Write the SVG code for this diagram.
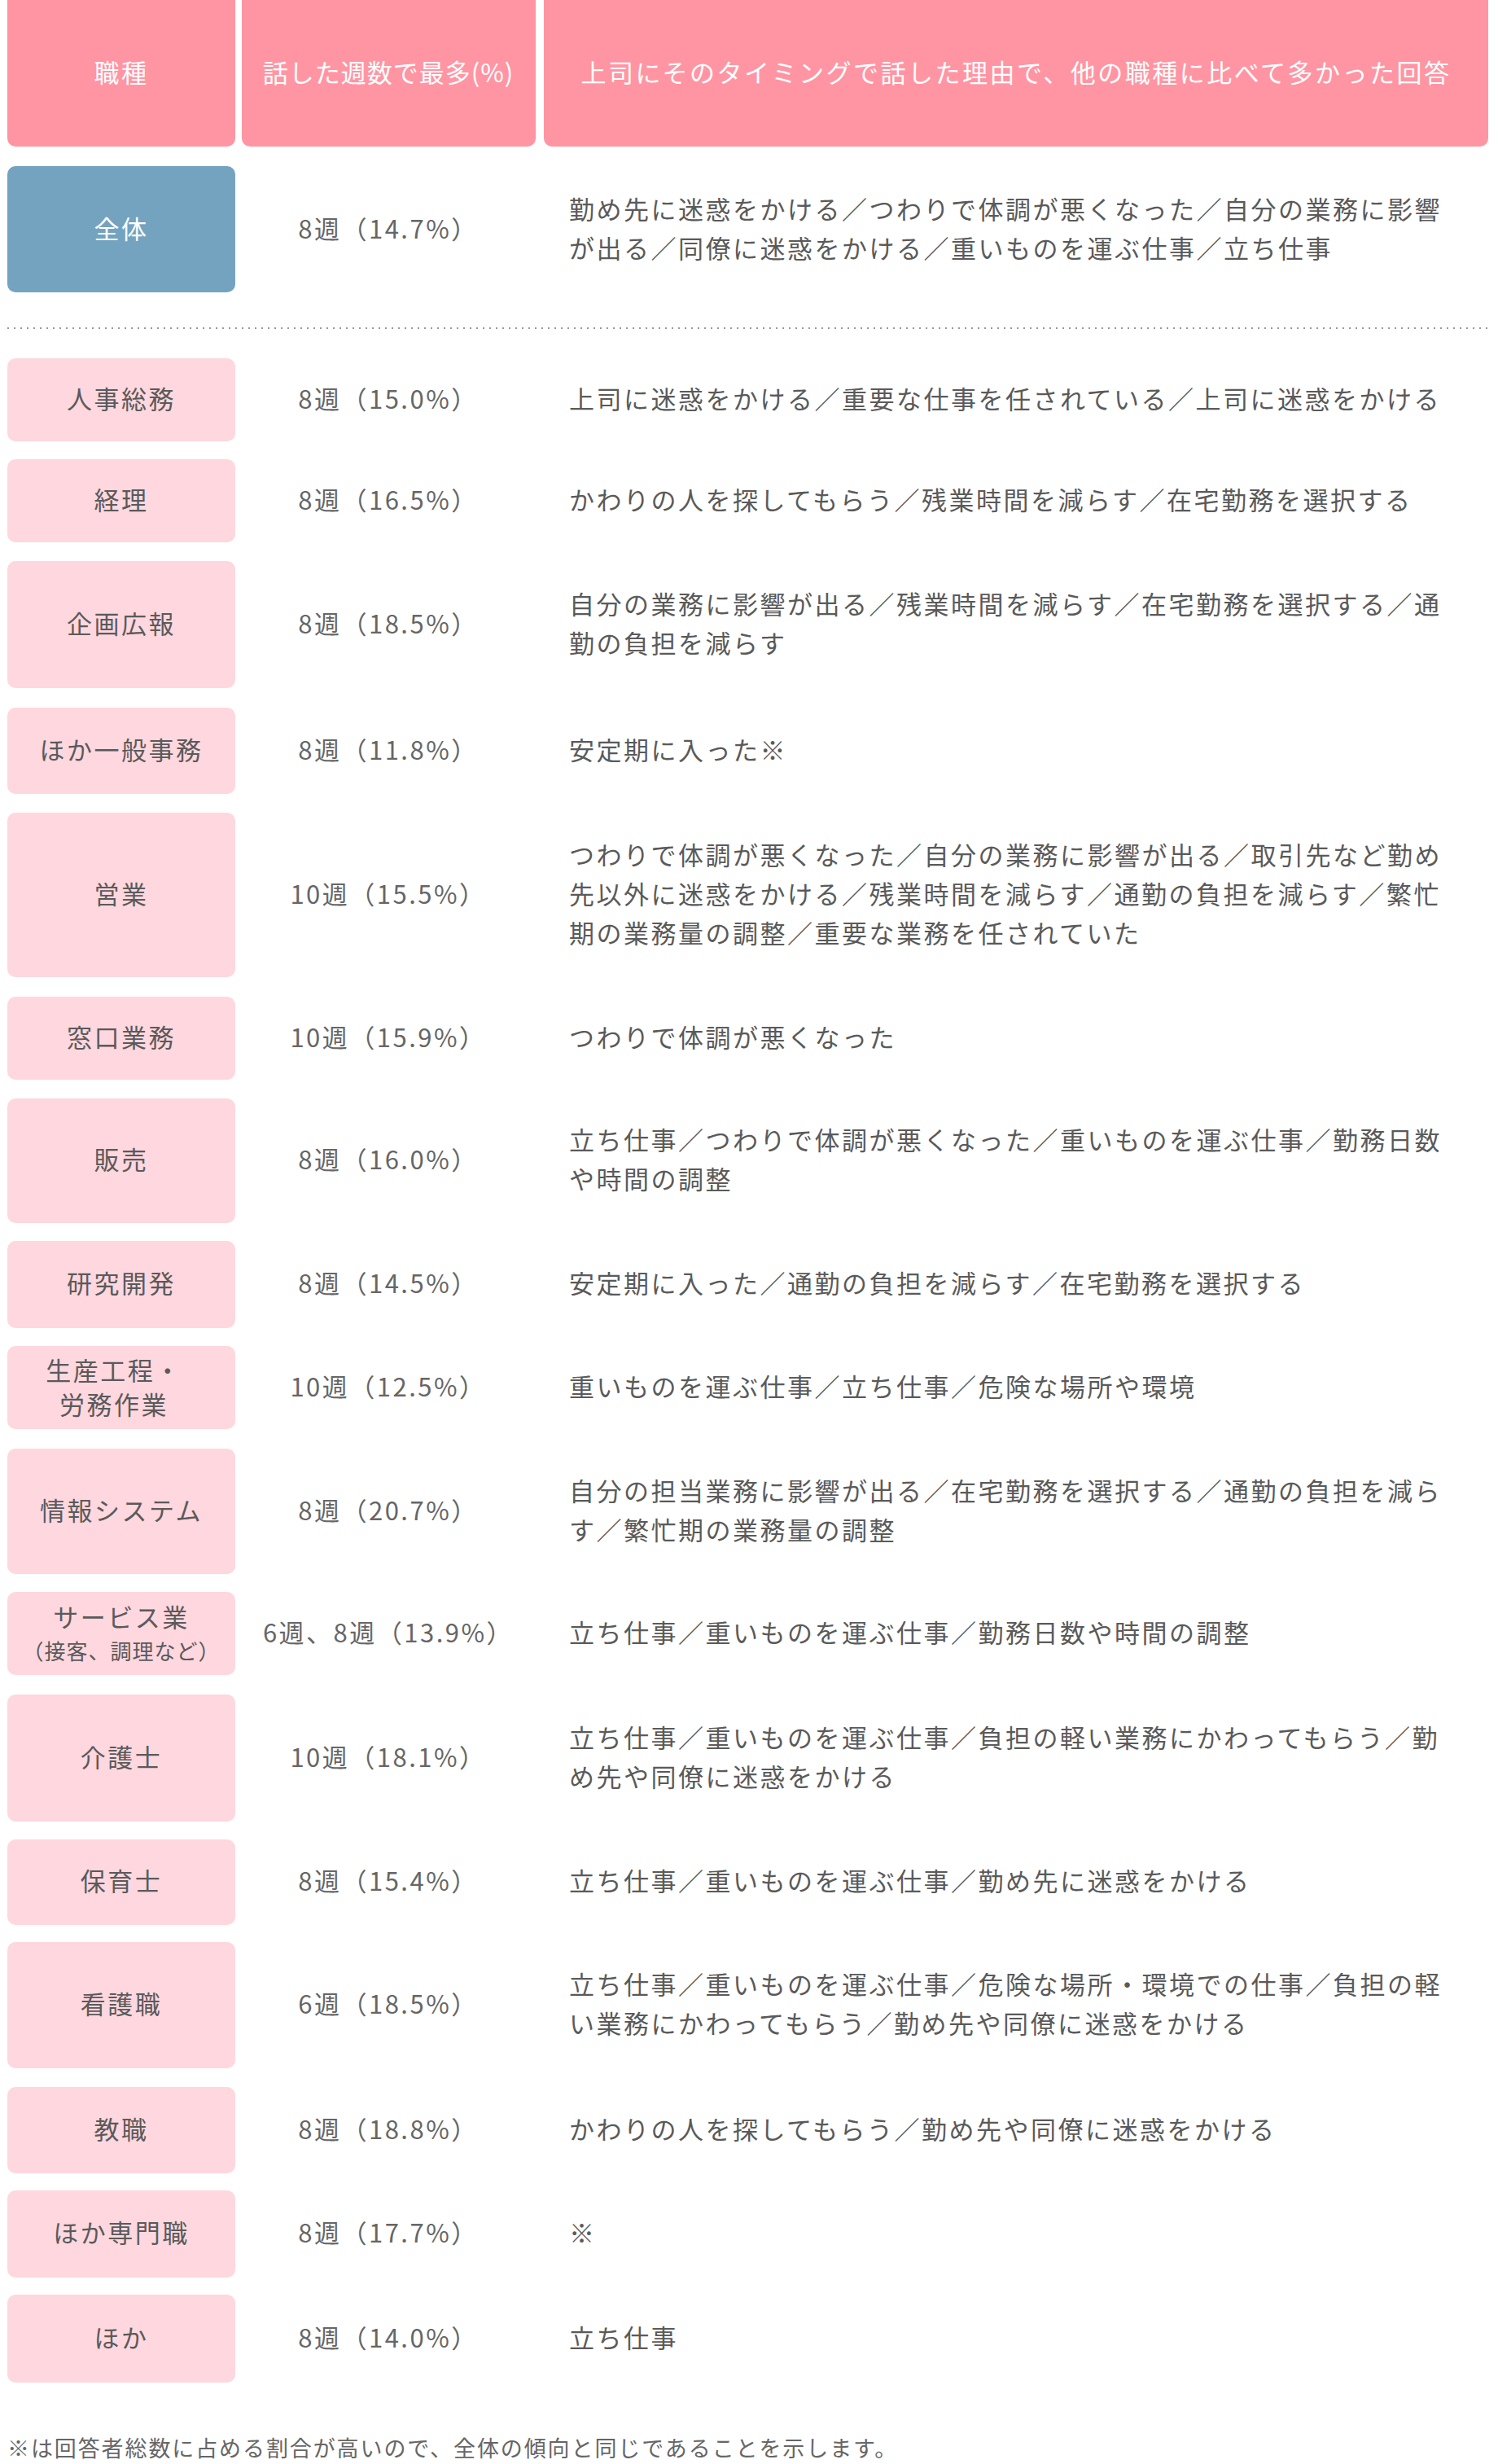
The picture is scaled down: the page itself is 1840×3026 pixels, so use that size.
<svg xmlns="http://www.w3.org/2000/svg" width="1840" height="3026" viewBox="0 0 1840 3026">
<style>
text{font-family:"Noto Sans CJK JP","Noto Sans",sans-serif;font-size:31px;letter-spacing:2.5px;fill:#5a5a5a}
.h{fill:#FF95A3}.b{fill:#74A3C0}.p{fill:#FFD7DF}
.w{fill:#fff}
.m{text-anchor:middle}
.c2{fill:#666}
.s{font-size:26px;letter-spacing:1px}
.f{font-size:27px;letter-spacing:1.9px;fill:#666}
</style>
<rect width="1840" height="3026" fill="#fff"/>
<g id="header">
<rect class="h" x="9" y="-10" width="280" height="190" rx="10"/>
<rect class="h" x="297" y="-10" width="361" height="190" rx="10"/>
<rect class="h" x="668" y="-10" width="1160" height="190" rx="10"/>
<text class="w m" x="149" y="101">職種</text>
<text class="w m" x="477" y="101" style="letter-spacing:1px">話した週数で最多(%)</text>
<text class="w m" x="1248" y="101">上司にそのタイミングで話した理由で、他の職種に比べて多かった回答</text>
</g>
<g id="row-all">
<rect class="b" x="9" y="204" width="280" height="155" rx="10"/>
<text class="w m" x="149" y="293">全体</text>
<text class="c2 m" x="477" y="293">8週（14.7%）</text>
<text x="699" y="269">勤め先に迷惑をかける／つわりで体調が悪くなった／自分の業務に影響</text>
<text x="699" y="317">が出る／同僚に迷惑をかける／重いものを運ぶ仕事／立ち仕事</text>
</g>
<g id="connectors">
<line x1="9" y1="403" x2="1828" y2="403" stroke="#999" stroke-width="2" stroke-dasharray="2,6"/>
</g>
<g id="r1"><rect class="p" x="9" y="440" width="280" height="102" rx="10"/><text class="m" x="149" y="502">人事総務</text><text class="c2 m" x="477" y="502">8週（15.0%）</text><text x="699" y="502">上司に迷惑をかける／重要な仕事を任されている／上司に迷惑をかける</text></g>
<g id="r2"><rect class="p" x="9" y="564" width="280" height="102" rx="10"/><text class="m" x="149" y="626">経理</text><text class="c2 m" x="477" y="626">8週（16.5%）</text><text x="699" y="626">かわりの人を探してもらう／残業時間を減らす／在宅勤務を選択する</text></g>
<g id="r3"><rect class="p" x="9" y="689" width="280" height="156" rx="10"/><text class="m" x="149" y="778">企画広報</text><text class="c2 m" x="477" y="778">8週（18.5%）</text><text x="699" y="754">自分の業務に影響が出る／残業時間を減らす／在宅勤務を選択する／通</text><text x="699" y="802">勤の負担を減らす</text></g>
<g id="r4"><rect class="p" x="9" y="869" width="280" height="106" rx="10"/><text class="m" x="149" y="933">ほか一般事務</text><text class="c2 m" x="477" y="933">8週（11.8%）</text><text x="699" y="933">安定期に入った※</text></g>
<g id="r5"><rect class="p" x="9" y="998" width="280" height="202" rx="10"/><text class="m" x="149" y="1110">営業</text><text class="c2 m" x="477" y="1110">10週（15.5%）</text><text x="699" y="1062">つわりで体調が悪くなった／自分の業務に影響が出る／取引先など勤め</text><text x="699" y="1110">先以外に迷惑をかける／残業時間を減らす／通勤の負担を減らす／繁忙</text><text x="699" y="1158">期の業務量の調整／重要な業務を任されていた</text></g>
<g id="r6"><rect class="p" x="9" y="1224" width="280" height="102" rx="10"/><text class="m" x="149" y="1286">窓口業務</text><text class="c2 m" x="477" y="1286">10週（15.9%）</text><text x="699" y="1286">つわりで体調が悪くなった</text></g>
<g id="r7"><rect class="p" x="9" y="1349" width="280" height="153" rx="10"/><text class="m" x="149" y="1436">販売</text><text class="c2 m" x="477" y="1436">8週（16.0%）</text><text x="699" y="1412">立ち仕事／つわりで体調が悪くなった／重いものを運ぶ仕事／勤務日数</text><text x="699" y="1460">や時間の調整</text></g>
<g id="r8"><rect class="p" x="9" y="1524" width="280" height="107" rx="10"/><text class="m" x="149" y="1588">研究開発</text><text class="c2 m" x="477" y="1588">8週（14.5%）</text><text x="699" y="1588">安定期に入った／通勤の負担を減らす／在宅勤務を選択する</text></g>
<g id="r9"><rect class="p" x="9" y="1653" width="280" height="102" rx="10"/><text class="m" x="140" y="1695">生産工程・</text><text class="m" x="140" y="1737">労務作業</text><text class="c2 m" x="477" y="1715">10週（12.5%）</text><text x="699" y="1715">重いものを運ぶ仕事／立ち仕事／危険な場所や環境</text></g>
<g id="r10"><rect class="p" x="9" y="1779" width="280" height="154" rx="10"/><text class="m" x="149" y="1867">情報システム</text><text class="c2 m" x="477" y="1867">8週（20.7%）</text><text x="699" y="1843">自分の担当業務に影響が出る／在宅勤務を選択する／通勤の負担を減ら</text><text x="699" y="1891">す／繁忙期の業務量の調整</text></g>
<g id="r11"><rect class="p" x="9" y="1955" width="280" height="102" rx="10"/><text class="m" x="149" y="1998">サービス業</text><text class="m s" x="149" y="2038">（接客、調理など）</text><text class="c2 m" x="477" y="2017">6週、8週（13.9%）</text><text x="699" y="2017">立ち仕事／重いものを運ぶ仕事／勤務日数や時間の調整</text></g>
<g id="r12"><rect class="p" x="9" y="2081" width="280" height="156" rx="10"/><text class="m" x="149" y="2170">介護士</text><text class="c2 m" x="477" y="2170">10週（18.1%）</text><text x="699" y="2146">立ち仕事／重いものを運ぶ仕事／負担の軽い業務にかわってもらう／勤</text><text x="699" y="2194">め先や同僚に迷惑をかける</text></g>
<g id="r13"><rect class="p" x="9" y="2259" width="280" height="105" rx="10"/><text class="m" x="149" y="2322">保育士</text><text class="c2 m" x="477" y="2322">8週（15.4%）</text><text x="699" y="2322">立ち仕事／重いものを運ぶ仕事／勤め先に迷惑をかける</text></g>
<g id="r14"><rect class="p" x="9" y="2385" width="280" height="155" rx="10"/><text class="m" x="149" y="2473">看護職</text><text class="c2 m" x="477" y="2473">6週（18.5%）</text><text x="699" y="2449">立ち仕事／重いものを運ぶ仕事／危険な場所・環境での仕事／負担の軽</text><text x="699" y="2497">い業務にかわってもらう／勤め先や同僚に迷惑をかける</text></g>
<g id="r15"><rect class="p" x="9" y="2563" width="280" height="106" rx="10"/><text class="m" x="149" y="2627">教職</text><text class="c2 m" x="477" y="2627">8週（18.8%）</text><text x="699" y="2627">かわりの人を探してもらう／勤め先や同僚に迷惑をかける</text></g>
<g id="r16"><rect class="p" x="9" y="2690" width="280" height="107" rx="10"/><text class="m" x="149" y="2754">ほか専門職</text><text class="c2 m" x="477" y="2754">8週（17.7%）</text><text x="699" y="2754">※</text></g>
<g id="r17"><rect class="p" x="9" y="2818" width="280" height="108" rx="10"/><text class="m" x="149" y="2883">ほか</text><text class="c2 m" x="477" y="2883">8週（14.0%）</text><text x="699" y="2883">立ち仕事</text></g>
<text class="f" x="9" y="3017">※は回答者総数に占める割合が高いので、全体の傾向と同じであることを示します。</text>
</svg>
